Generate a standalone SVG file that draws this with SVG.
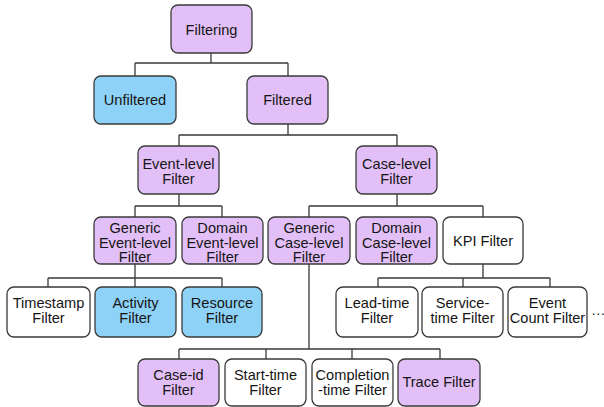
<svg xmlns="http://www.w3.org/2000/svg" width="604" height="407" viewBox="0 0 604 407">
  <style>
    .box { stroke: #3a3a3a; stroke-width: 1.3; }
    .purple { fill: #e2c0f7; }
    .blue { fill: #8fd2f7; }
    .white { fill: #ffffff; }
    text { font-family: "Liberation Sans", Arial, sans-serif; font-size: 14.6px; fill: #151515; text-anchor: middle; }
    .wire { fill: none; stroke: #3a3a3a; stroke-width: 1.3; }
  </style>
  <rect width="604" height="407" fill="#ffffff"/>

  <!-- tree connectors -->
  <g id="connectors">
    <path class="wire" d="M211,53 V63 M135,63 H288 M135,63 V76 M288,63 V76"/>
    <path class="wire" d="M288,124 V135 M179,135 H397 M179,135 V146 M397,135 V146"/>
    <path class="wire" d="M179,194 V206 M135,206 H222 M135,206 V217 M222,206 V217"/>
    <path class="wire" d="M397,194 V206 M309,206 H483 M309,206 V217 M483,206 V217"/>
    <path class="wire" d="M135,264 V278 M48,278 H222 M48,278 V287 M135,278 V287 M222,278 V287"/>
    <path class="wire" d="M483,264 V278 M378,278 H550 M378,278 V287 M463,278 V287 M550,278 V287"/>
    <path class="wire" d="M309,264 V349 M179,349 H440 M179,349 V359 M266,349 V359 M352,349 V359 M440,349 V359"/>
  </g>

  <g id="filtering">
    <rect class="box purple" x="171" y="5" width="81" height="48" rx="7"/>
    <text x="211.5" y="35">Filtering</text>
  </g>
  <g id="unfiltered">
    <rect class="box blue" x="94" y="76" width="82" height="48" rx="7"/>
    <text x="135" y="105">Unfiltered</text>
  </g>
  <g id="filtered">
    <rect class="box purple" x="247" y="76" width="81" height="48" rx="7"/>
    <text x="287.5" y="105">Filtered</text>
  </g>

  <g id="event-level">
    <rect class="box purple" x="138" y="146" width="81" height="48" rx="7"/>
    <text x="178.5" y="169">Event-level</text>
    <text x="178.5" y="184">Filter</text>
  </g>
  <g id="case-level">
    <rect class="box purple" x="356" y="146" width="81" height="48" rx="7"/>
    <text x="396.5" y="169">Case-level</text>
    <text x="396.5" y="184">Filter</text>
  </g>

  <g id="generic-event-level">
    <rect class="box purple" x="94" y="217" width="82" height="47" rx="7"/>
    <text x="135" y="233">Generic</text>
    <text x="135" y="248">Event-level</text>
    <text x="135" y="262">Filter</text>
  </g>
  <g id="domain-event-level">
    <rect class="box purple" x="182" y="217" width="81" height="47" rx="7"/>
    <text x="222.5" y="233">Domain</text>
    <text x="222.5" y="248">Event-level</text>
    <text x="222.5" y="262">Filter</text>
  </g>
  <g id="generic-case-level">
    <rect class="box purple" x="268" y="217" width="82" height="47" rx="7"/>
    <text x="309" y="233">Generic</text>
    <text x="309" y="248">Case-level</text>
    <text x="309" y="262">Filter</text>
  </g>
  <g id="domain-case-level">
    <rect class="box purple" x="356" y="217" width="81" height="47" rx="7"/>
    <text x="396.5" y="233">Domain</text>
    <text x="396.5" y="248">Case-level</text>
    <text x="396.5" y="262">Filter</text>
  </g>
  <g id="kpi">
    <rect class="box white" x="443" y="217" width="80" height="47" rx="7"/>
    <text x="483" y="246">KPI Filter</text>
  </g>

  <g id="timestamp">
    <rect class="box white" x="7" y="287" width="83" height="50" rx="7"/>
    <text x="48.5" y="308">Timestamp</text>
    <text x="48.5" y="323">Filter</text>
  </g>
  <g id="activity">
    <rect class="box blue" x="95" y="287" width="81" height="50" rx="7"/>
    <text x="135.5" y="308">Activity</text>
    <text x="135.5" y="323">Filter</text>
  </g>
  <g id="resource">
    <rect class="box blue" x="182" y="287" width="80" height="50" rx="7"/>
    <text x="222" y="308">Resource</text>
    <text x="222" y="323">Filter</text>
  </g>

  <g id="lead-time">
    <rect class="box white" x="336" y="287" width="82" height="50" rx="7"/>
    <text x="377" y="308">Lead-time</text>
    <text x="377" y="323">Filter</text>
  </g>
  <g id="service-time">
    <rect class="box white" x="422" y="287" width="81" height="50" rx="7"/>
    <text x="462.5" y="308">Service-</text>
    <text x="462.5" y="323">time Filter</text>
  </g>
  <g id="event-count">
    <rect class="box white" x="508" y="287" width="79" height="50" rx="7"/>
    <text x="547.5" y="308">Event</text>
    <text x="547.5" y="323">Count Filter</text>
  </g>
  <text x="591" y="315" style="text-anchor:start">…</text>

  <g id="case-id">
    <rect class="box purple" x="138" y="359" width="81" height="47" rx="7"/>
    <text x="178.5" y="380">Case-id</text>
    <text x="178.5" y="395">Filter</text>
  </g>
  <g id="start-time">
    <rect class="box white" x="225" y="359" width="81" height="47" rx="7"/>
    <text x="265.5" y="380">Start-time</text>
    <text x="265.5" y="395">Filter</text>
  </g>
  <g id="completion-time">
    <rect class="box white" x="312" y="359" width="81" height="47" rx="7"/>
    <text x="352.5" y="380">Completion</text>
    <text x="352.5" y="395">-time Filter</text>
  </g>
  <g id="trace">
    <rect class="box purple" x="398" y="359" width="82" height="47" rx="7"/>
    <text x="439" y="387">Trace Filter</text>
  </g>
</svg>
